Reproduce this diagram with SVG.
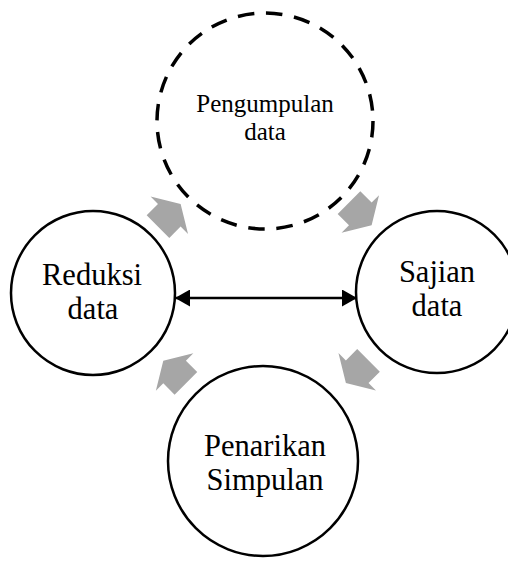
<svg xmlns="http://www.w3.org/2000/svg" xmlns:xlink="http://www.w3.org/1999/xlink" width="508" height="562" viewBox="0 0 508 562">
<style>
.node{fill:#ffffff;stroke:#000000;stroke-width:2.5}
.dash{fill:#ffffff;stroke:#000000;stroke-width:3.5;stroke-dasharray:16.5 11.8}
.lbl{font-family:"Liberation Serif","Times New Roman",serif;fill:#000000;text-anchor:middle}
.big{font-size:30.5px}
.small{font-size:25px}
.blk{fill:#a6a6a6;stroke:none}
.link{stroke:#000000;stroke-width:2.5;fill:none}
</style>
<defs>
<polygon id="blkarrow" points="-16,-16 0,-16 0,-26.5 16,0 0,26.5 0,16 -16,16"/>
<marker id="head" viewBox="0 0 15 17" refX="15" refY="8.5" markerWidth="15" markerHeight="17" markerUnits="userSpaceOnUse" orient="auto-start-reverse">
<path d="M0,0 L15,8.5 L0,17 z" fill="#000000"/>
</marker>
</defs>
<rect x="0" y="0" width="508" height="562" fill="#ffffff"/>
<g id="pengumpulan">
<circle class="dash" cx="265" cy="121" r="108"/>
<text class="lbl small" x="265" y="112">Pengumpulan</text>
<text class="lbl small" x="265" y="140">data</text>
</g>
<g id="reduksi">
<circle class="node" cx="93" cy="293" r="82"/>
<text class="lbl big" x="92" y="285">Reduksi</text>
<text class="lbl big" x="93" y="319">data</text>
</g>
<g id="sajian">
<circle class="node" cx="437" cy="292" r="81"/>
<text class="lbl big" x="437" y="282">Sajian</text>
<text class="lbl big" x="437" y="316">data</text>
</g>
<g id="penarikan">
<circle class="node" cx="263" cy="461" r="95"/>
<text class="lbl big" x="265" y="456">Penarikan</text>
<text class="lbl big" x="265" y="490">Simpulan</text>
</g>
<g id="connectors">
<path class="link" d="M175,298 L357,298" marker-start="url(#head)" marker-end="url(#head)"/>
<use xlink:href="#blkarrow" class="blk" transform="translate(169.3,215.3) rotate(-45)"/>
<use xlink:href="#blkarrow" class="blk" transform="translate(360.3,213.9) rotate(45)"/>
<use xlink:href="#blkarrow" class="blk" transform="translate(357.2,371.7) rotate(135)"/>
<use xlink:href="#blkarrow" class="blk" transform="translate(174.6,372) rotate(-135)"/>
</g>
</svg>
